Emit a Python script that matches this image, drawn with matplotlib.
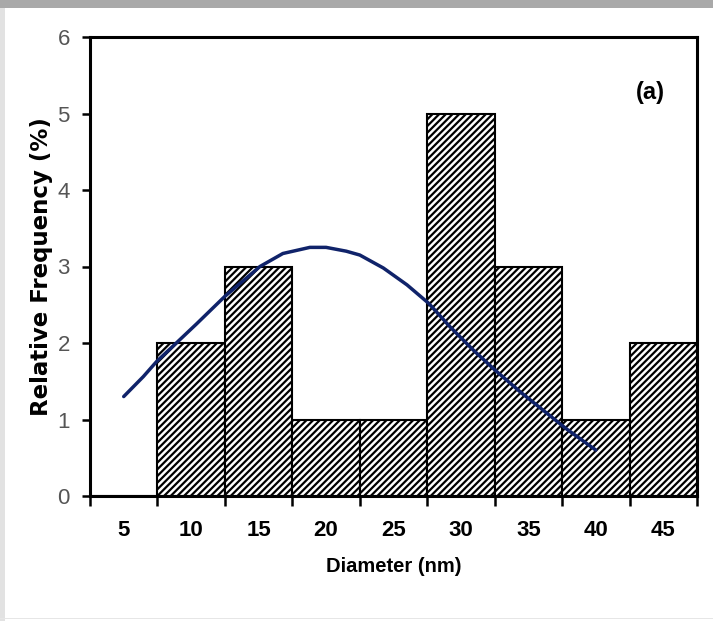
import matplotlib
matplotlib.use("Agg")
import matplotlib.pyplot as plt
from matplotlib.patches import Rectangle

# ---- data ----
diameters = [5, 10, 15, 20, 25, 30, 35, 40, 45]
frequency = [0, 2, 3, 1, 1, 5, 3, 1, 2]
tick_labels = ["5", "10", "15", "20", "25", "30", "35", "40", "45"]
curve_x = [5.0, 6.45, 7.45, 8.9, 10.4, 12.5, 13.9, 15.1, 16.8, 18.8, 20.0, 21.5,
           22.5, 24.25, 26.0, 27.6, 29.2, 30.9, 32.5, 34.4, 36.1, 37.8, 40.0]
curve_y = [1.30, 1.56, 1.76, 2.00, 2.25, 2.61, 2.82, 3.00, 3.17, 3.25, 3.25, 3.20,
           3.15, 2.98, 2.76, 2.52, 2.21, 1.91, 1.65, 1.36, 1.12, 0.88, 0.60]

plt.rcParams['hatch.linewidth'] = 1.6
bold_font = ['Liberation Sans', 'DejaVu Sans']

fig = plt.figure(figsize=(7.13, 6.21), dpi=100)
fig.patch.set_facecolor('white')
# image frame bands
fig.patches.append(Rectangle((0, 1 - 8/621), 1, 8/621, transform=fig.transFigure,
                             facecolor='#a9a9a9', edgecolor='none', zorder=0))
fig.patches.append(Rectangle((0, 0), 5/713, 1 - 8/621, transform=fig.transFigure,
                             facecolor='#e2e2e2', edgecolor='none', zorder=0))
fig.patches.append(Rectangle((0, 2/621), 1, 1.5/621, transform=fig.transFigure,
                             facecolor='#e6e6e6', edgecolor='none', zorder=0))

ax = fig.add_axes([90/713, 125/621, 607/713, 459/621])
ax.bar(diameters, frequency, width=5, color='white', edgecolor='black',
       linewidth=1.5, hatch='/////', zorder=2)
ax.plot(curve_x, curve_y, color='#10236a', linewidth=2.5, zorder=3,
        solid_joinstyle='round', solid_capstyle='round')

ax.set_xlim(2.5, 47.5)
ax.set_ylim(0, 6)
ax.set_yticks(range(0, 7))
ax.set_xticks([d - 2.5 for d in diameters] + [47.5])
ax.set_xticks(diameters, minor=True)
ax.set_xticklabels([])
ax.set_xticklabels(tick_labels, minor=True)
ax.tick_params(axis='x', which='major', direction='out', length=7, width=1.8, color='black')
ax.tick_params(axis='x', which='minor', length=0, pad=17)
ax.tick_params(axis='y', direction='out', length=5.5, width=1.8, pad=9, labelcolor='#555555')
for lab in ax.get_xticklabels(minor=True):
    lab.set_fontfamily(bold_font)
    lab.set_fontweight('bold')
    lab.set_fontsize(16)
for lab in ax.get_yticklabels():
    lab.set_fontfamily(bold_font)
    lab.set_fontsize(16)

for s in ax.spines.values():
    s.set_linewidth(2.2)
    s.set_color('black')

ax.set_xlabel('Diameter (nm)', fontfamily=bold_font, fontweight='bold', fontsize=14.5, labelpad=12)
ax.set_ylabel('Relative Frequency (%)', fontfamily='DejaVu Sans', fontweight='bold',
              fontsize=16.5, labelpad=3)
ax.text(0.924, 0.880, '(a)', transform=ax.transAxes, fontfamily=bold_font,
        fontweight='bold', fontsize=17, ha='center', va='center')

fig.savefig('out.png', dpi=100)
